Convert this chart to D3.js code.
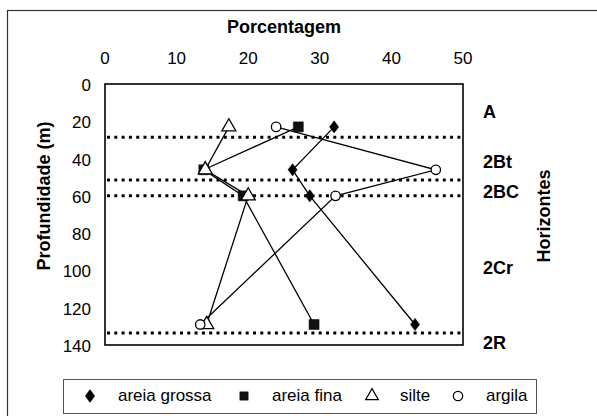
<!DOCTYPE html>
<html>
<head>
<script src="https://d3js.org/d3.v7.min.js"></script>
<style>
  body { margin: 0; background: #fff; }
  text { font-family: "Liberation Sans", Arial, sans-serif; fill: #000; }
</style>
</head>
<body>
<script>
// profundidade (m) de cada amostra
var depths = [23, 46, 60, 129];
var areiaGrossa = [32.0, 26.2, 28.6, 43.3];
var areiaFina = [27.0, 13.8, 19.3, 29.2];
var silte = [17.3, 14.0, 20.0, 14.2];
var argila = [23.9, 46.2, 32.2, 13.3];
var seriesNames = ["areia grossa", "areia fina", "silte", "argila"];
var horizonLines = [28.5, 51.5, 60, 133.5];
var horizonNames = ["A", "2Bt", "2BC", "2Cr", "2R"];
var horizonDepths = [15, 42, 58, 98.5, 139];
var xTicks = [0, 10, 20, 30, 40, 50];
var yTicks = [0, 20, 40, 60, 80, 100, 120, 140];

var w = 597, h = 416;
var svg = d3.select("body").append("svg").attr("width", w).attr("height", h);

// moldura externa
svg.append("rect").attr("x", 7.5).attr("y", 10.5).attr("width", 620).attr("height", 420)
  .attr("fill", "none").attr("stroke", "#333").attr("stroke-width", 1.2);

var x = d3.scaleLinear().domain([0, 50]).range([105, 463]);
var y = d3.scaleLinear().domain([0, 140]).range([84, 345]);

// tick labels
svg.selectAll(".xt").data(xTicks).enter().append("text")
  .attr("x", d => x(d)).attr("y", 64).attr("text-anchor", "middle")
  .style("font-size", "17px").text(d => d);
svg.selectAll(".yt").data(yTicks).enter().append("text")
  .attr("x", 91).attr("y", d => y(d) + 7).attr("text-anchor", "end")
  .style("font-size", "17px").text(d => d);

svg.append("text").attr("x", 284).attr("y", 33).attr("text-anchor", "middle")
  .style("font-size", "18px").style("font-weight", "bold").text("Porcentagem");
svg.append("text").attr("transform", "translate(50,196) rotate(-90)").attr("text-anchor", "middle")
  .style("font-size", "18px").style("font-weight", "bold").text("Profundidade (m)");
svg.append("text").attr("transform", "translate(550,216) rotate(-90)").attr("text-anchor", "middle")
  .style("font-size", "18px").style("font-weight", "bold").text("Horizontes");

// nomes dos horizontes
svg.selectAll(".hz").data(horizonNames).enter().append("text")
  .attr("x", 483).attr("y", (d, i) => y(horizonDepths[i]) + 6)
  .style("font-size", "18px").style("font-weight", "bold").text(d => d);

// linhas pontilhadas
svg.selectAll(".hl").data(horizonLines).enter().append("line")
  .attr("x1", x(0) + 2).attr("x2", x(50) - 2)
  .attr("y1", d => y(d)).attr("y2", d => y(d))
  .attr("stroke", "#000").attr("stroke-width", 3).attr("stroke-dasharray", "3,4.3");

// borda da área do gráfico
svg.append("rect").attr("x", x(0)).attr("y", y(0)).attr("width", x(50) - x(0)).attr("height", y(140) - y(0))
  .attr("fill", "none").attr("stroke", "#000").attr("stroke-width", 1.6);

var allSeries = [areiaGrossa, areiaFina, silte, argila];
var symbols = [d3.symbolDiamond, d3.symbolSquare, d3.symbolTriangle, d3.symbolCircle];
var sizes = [60, 100, 85, 70];
var fills = ["#000", "#111", "#fff", "#fff"];
var line = d3.line().x(d => x(d[0])).y(d => y(d[1]));

allSeries.forEach(function(vals) {
  var pts = vals.map((v, i) => [v, depths[i]]);
  svg.append("path").attr("d", line(pts)).attr("fill", "none")
    .attr("stroke", "#000").attr("stroke-width", 1.3);
});
allSeries.forEach(function(vals, s) {
  svg.selectAll(".m" + s).data(vals).enter().append("path")
    .attr("d", d3.symbol().type(symbols[s]).size(sizes[s]))
    .attr("transform", (d, i) => "translate(" + x(d) + "," + y(depths[i]) + ")" + (s == 0 ? " scale(1.1,0.85)" : ""))
    .attr("fill", fills[s]).attr("stroke", "#000").attr("stroke-width", s >= 2 ? 1.3 : 0.5);
});

// legenda
svg.append("rect").attr("x", 63.5).attr("y", 379.5).attr("width", 473).attr("height", 34)
  .attr("fill", "#fff").attr("stroke", "#555").attr("stroke-width", 1);
var legX = [90, 244, 372, 458];
var legTx = [118, 272, 400, 486];
seriesNames.forEach(function(name, s) {
  svg.append("path").attr("d", d3.symbol().type(symbols[s]).size(s == 0 ? 65 : 70))
    .attr("transform", "translate(" + legX[s] + ",396)" + (s == 0 ? " scale(1.1,0.85)" : ""))
    .attr("fill", fills[s]).attr("stroke", "#000").attr("stroke-width", s >= 2 ? 1.2 : 0.5);
  svg.append("text").attr("x", legTx[s]).attr("y", 401).style("font-size", "17px").text(name);
});
</script>
</body>
</html>
